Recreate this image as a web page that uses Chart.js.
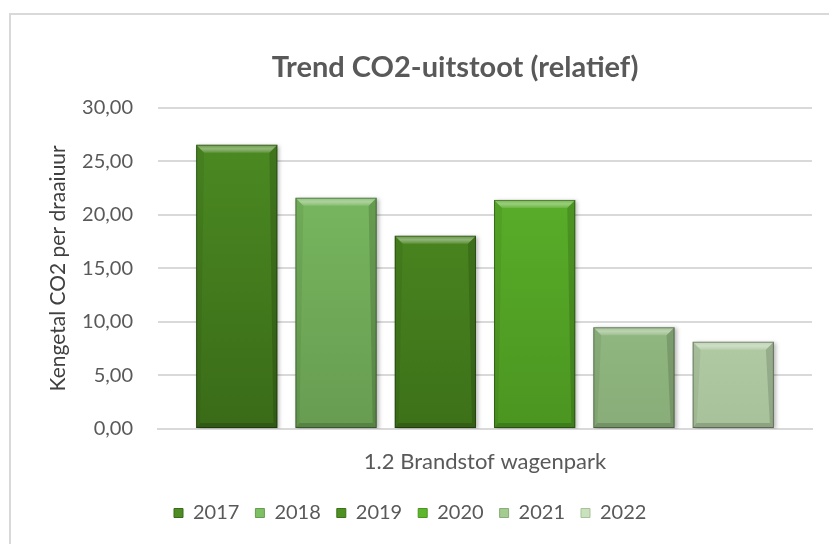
<!DOCTYPE html>
<html>
<head>
<meta charset="utf-8">
<script src="https://cdn.jsdelivr.net/npm/chart.js@4"></script>
<style>
  html, body { margin: 0; padding: 0; background: #fff; overflow: hidden; }
  #wrap {
    position: absolute; left: 9px; top: 13px;
    width: 888px; height: 545px;
    border-left: 2px solid #d9d9d9; border-top: 2px solid #d9d9d9;
  }
  canvas { display: block; }
</style>
</head>
<body>
<div id="wrap"><canvas id="co2" width="888" height="545"></canvas></div>
<script>
// data
const categories = ["1.2 Brandstof wagenpark"];
const years = ["2017", "2018", "2019", "2020", "2021", "2022"];
const values = [26.55, 21.6, 18.05, 21.4, 9.5, 8.15];
// kleuren (boven, onder)
const topColors = ["#4d8d23", "#7dc063", "#4f9023", "#5eb62c", "#a3cc91", "#c9e1bc"];
const bottomColors = ["#3a6b18", "#679c51", "#3d7119", "#4b9521", "#88ad78", "#a7c19a"];

const fontFam = "Lato, 'Open Sans', sans-serif";
const fmt = v => v.toFixed(2).replace(".", ",");

function gradientFor(i) {
  return ctx => {
    const area = ctx.chart.chartArea;
    if (!area) return topColors[i];
    const g = ctx.chart.ctx.createLinearGradient(0, area.top, 0, area.bottom);
    g.addColorStop(0, topColors[i]);
    g.addColorStop(1, bottomColors[i]);
    return g;
  };
}

// schaduw + afgeschuinde randen op de staven
const bevelPlugin = {
  id: "bevel",
  beforeDatasetsDraw(chart) {
    const c = chart.ctx;
    c.save();
    c.shadowColor = "rgba(0,0,0,0.28)";
    c.shadowBlur = 4;
    c.shadowOffsetX = 2;
    c.shadowOffsetY = 1;
  },
  afterDatasetsDraw(chart) {
    const c = chart.ctx;
    c.restore();
    chart.data.datasets.forEach((ds, i) => {
      const meta = chart.getDatasetMeta(i);
      meta.data.forEach(bar => {
        const p = bar.getProps(["x", "y", "base", "width"], true);
        const l = p.x - p.width / 2, r = p.x + p.width / 2;
        const t = p.y, b = p.base;
        const bv = 8, sv = 4, bb = 5;
        c.save();
        // boven
        c.beginPath();
        c.moveTo(l, t); c.lineTo(r, t); c.lineTo(r - bv, t + bv); c.lineTo(l + bv, t + bv); c.closePath();
        const gt = c.createLinearGradient(0, t, 0, t + bv);
        gt.addColorStop(0, "rgba(255,255,255,0.15)");
        gt.addColorStop(0.5, "rgba(255,255,255,0.4)");
        gt.addColorStop(1, "rgba(255,255,255,0.12)");
        c.fillStyle = gt; c.fill();
        // links
        c.beginPath();
        c.moveTo(l, t); c.lineTo(l + bv, t + bv); c.lineTo(l + sv, b - bb); c.lineTo(l, b); c.closePath();
        c.fillStyle = "rgba(0,0,0,0.06)"; c.fill();
        // rechts
        c.beginPath();
        c.moveTo(r, t); c.lineTo(r - bv, t + bv); c.lineTo(r - sv, b - bb); c.lineTo(r, b); c.closePath();
        c.fillStyle = "rgba(0,0,0,0.14)"; c.fill();
        // onder
        c.beginPath();
        c.moveTo(l, b); c.lineTo(r, b); c.lineTo(r - sv, b - bb); c.lineTo(l + sv, b - bb); c.closePath();
        c.fillStyle = "rgba(0,0,0,0.16)"; c.fill();
        // rand
        c.strokeStyle = "rgba(0,0,0,0.35)";
        c.lineWidth = 1;
        c.strokeRect(l + 0.5, t + 0.5, r - l - 1, b - t - 1);
        c.restore();
      });
    });
  }
};

const datasets = years.map((y, i) => ({
  label: y,
  data: [values[i]],
  backgroundColor: gradientFor(i),
  borderWidth: 0,
  categoryPercentage: 0.911,
  barPercentage: 0.818
}));

new Chart(document.getElementById("co2"), {
  type: "bar",
  data: { labels: categories, datasets: datasets },
  plugins: [bevelPlugin],
  options: {
    responsive: false,
    animation: false,
    layout: { padding: { left: 0, right: 0, top: 0, bottom: 27 } },
    plugins: {
      title: {
        display: true,
        text: "Trend CO2-uitstoot (relatief)",
        color: "#595959",
        font: { family: fontFam, size: 29, weight: "bold" },
        padding: { top: 35, bottom: 23 }
      },
      legend: {
        position: "bottom",
        align: "start",
        fullSize: false,
        labels: {
          color: "#595959",
          font: { family: fontFam, size: 20 },
          boxWidth: 9,
          boxHeight: 9,
          padding: 16,
          generateLabels(chart) {
            return chart.data.datasets.map((ds, i) => ({
              text: ds.label,
              fillStyle: topColors[i],
              strokeStyle: bottomColors[i],
              lineWidth: 1,
              datasetIndex: i,
              fontColor: "#595959"
            }));
          }
        }
      },
      tooltip: { enabled: false }
    },
    scales: {
      x: {
        grid: { display: false, drawTicks: false },
        border: { color: "#d9d9d9", width: 2 },
        afterFit(scale) { scale.height = 58; },
        ticks: { color: "#595959", font: { family: fontFam, size: 22 }, padding: 20 }
      },
      y: {
        min: 0,
        max: 30,
        afterFit(scale) { scale.width = 147; },
        grid: { color: "#d9d9d9", lineWidth: 2, drawTicks: false },
        border: { display: false },
        ticks: {
          stepSize: 5,
          color: "#595959",
          font: { family: fontFam, size: 20 },
          padding: 25,
          callback: v => fmt(v)
        },
        title: {
          display: true,
          text: "Kengetal CO2 per draaiuur",
          color: "#404040",
          font: { family: fontFam, size: 21 },
          padding: { top: 35, bottom: 0 }
        }
      },
      // lege as rechts, zodat de titel boven het hele kader gecentreerd staat
      yRight: {
        position: "right",
        display: true,
        afterFit(scale) { scale.width = 87; },
        grid: { display: false, drawTicks: false },
        border: { display: false },
        ticks: { display: false }
      }
    }
  }
});
</script>
</body>
</html>
